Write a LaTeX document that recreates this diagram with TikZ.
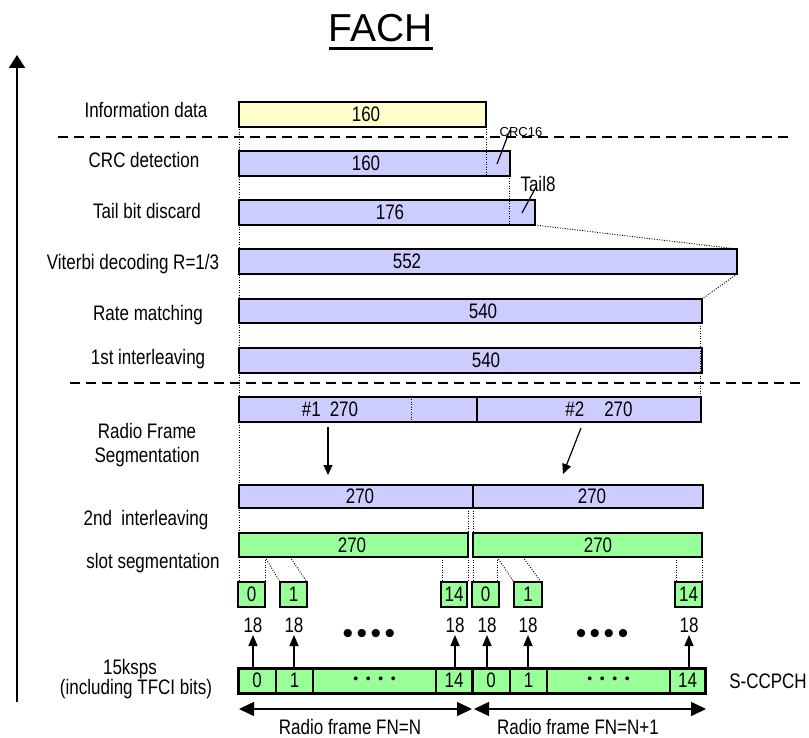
\documentclass[tikz,border=0pt]{standalone}
\usepackage{fontspec}
\setmainfont[FakeStretch=0.81]{Liberation Sans}
\newfontfamily\titlefont{Liberation Sans}
\usetikzlibrary{arrows.meta}

\definecolor{infoyel}{RGB}{255,255,204}
\definecolor{chblue}{RGB}{204,204,255}
\definecolor{slotgrn}{RGB}{153,255,153}

\tikzset{
  txt/.style={font=\fontsize{21}{24}\selectfont, inner sep=0pt},
  lbl/.style={txt, anchor=base},
  bar/.style={draw=black, line width=1.5pt},
  dotln/.style={black, line width=0.9pt, dash pattern=on 1pt off 1.5pt},
  dashln/.style={black, line width=2pt, dash pattern=on 10pt off 6pt},
  uparr/.style={line width=1.5pt, -{Triangle[length=11pt,width=9pt]}},
  segarr/.style={line width=1.2pt, -{Triangle[length=10pt,width=9pt]}},
  fnarr/.style={line width=1.5pt, {Triangle[length=15pt,width=14pt]}-{Triangle[length=15pt,width=14pt]}},
}

\begin{document}
\begin{tikzpicture}[x=1pt,y=-1pt] % pixel grid, y down
  \useasboundingbox (0,0) rectangle (809,738);

  % title and axis
  \node[font=\titlefont\fontsize{39}{42}\selectfont, anchor=base, inner sep=0pt] (title) at (381,42) {FACH};
  \draw[line width=3pt] ([yshift=-7pt]title.base west) -- ([yshift=-7pt]title.base east);
  \coordinate (axbot) at (17,702);
  \coordinate (axtop) at (17,55);
  \draw[line width=2pt, -{Triangle[length=13pt,width=16pt]}] (axbot) -- (axtop);

  \draw[dashln] (58,137) -- (792,137);
  \draw[dashln] (70,383) -- (805,383);
  \draw[dotln] (239,127) -- (239,582);

  % bars
  \filldraw[bar, fill=infoyel] (239,102) rectangle (486,127);
  \filldraw[bar, fill=chblue] (239,151) rectangle (510,176);
  \filldraw[bar, fill=chblue] (239,200) rectangle (535,225);
  \filldraw[bar, fill=chblue] (239,249) rectangle (737,274);
  \filldraw[bar, fill=chblue] (239,299) rectangle (702,323);
  \filldraw[bar, fill=chblue] (239,348) rectangle (702,373);
  \filldraw[bar, fill=chblue] (239,397) rectangle (477,422);
  \filldraw[bar, fill=chblue] (477,397) rectangle (701,422);
  \filldraw[bar, fill=chblue] (239,485) rectangle (473,508);
  \filldraw[bar, fill=chblue] (473,485) rectangle (703,508);
  \filldraw[bar, fill=slotgrn] (239,533) rectangle (468,557);
  \filldraw[bar, fill=slotgrn] (473,533) rectangle (702,557);

  % bar texts
  \node[txt] (info) at (366,114.5) {160};
  \node[txt] (crc) at (366,163.5) {160};
  \node[txt] (tail) at (390,212.5) {176};
  \node[txt] (vit) at (407,261.5) {552};
  \node[txt] (rm) at (483,311) {540};
  \node[txt] (il1) at (486,360.5) {540};
  \node[txt] (rf1) at (330,409.5) {\#1\hspace{9pt}270};
  \node[txt] (rf2) at (599,409.5) {\#2\hspace{20pt}270};
  \node[txt] (il2a) at (360,496.5) {270};
  \node[txt] (il2b) at (592,496.5) {270};
  \node[txt] (ssa) at (352,545) {270};
  \node[txt] (ssb) at (598,545) {270};

  % dotted guides
  \draw[dotln] (486,127) -- (486,176);
  \draw[dotln] (509,176) -- (509,225);
  \draw[dotln] (535,225) -- (737,249);
  \draw[dotln] (737,274) -- (702,299);
  \draw[dotln] (700,323) -- (700,397);
  \draw[dotln] (411,399) -- (411,421);
  \draw[dotln] (468,508) -- (468,533);
  \draw[dotln] (473,508) -- (473,533);
  \foreach \x in {265,442,468,473,497,676,702}
    \draw[dotln] (\x,557) -- (\x,582);
  \draw[dotln] (265,557) -- (280,582);
  \draw[dotln] (290,557) -- (307,582);
  \draw[dotln] (497,557) -- (514,582);
  \draw[dotln] (523,557) -- (541,582);

  % CRC16 and Tail8
  \node[font=\titlefont\fontsize{13}{14}\selectfont, anchor=base, inner sep=0pt] (crc16) at (521,137) {CRC16};
  \draw[line width=1.2pt] (510,130) -- (497,164);
  \node[lbl] (tail8) at (538,192) {Tail8};
  \draw[line width=1.2pt] (536,187) -- (522,213);

  % segmentation arrows
  \coordinate (s1a) at (328,427);
  \coordinate (s1b) at (328,475);
  \coordinate (s2a) at (581,428);
  \coordinate (s2b) at (563,474);
  \draw[segarr] (s1a) -- (s1b);
  \draw[segarr] (s2a) -- (s2b);

  % slots
  \foreach \a/\b/\t in {238/265/0, 280/307/1, 441/467/14, 472/499/0, 514/542/1, 675/702/14} {
    \filldraw[bar, fill=slotgrn] (\a,582) rectangle (\b,607);
    \node[txt] (sl\a) at ({(\a+\b)/2},594.5) {\t};
  }

  % S-CCPCH
  \fill[slotgrn] (238,668) rectangle (705,693);
  \foreach \x in {276,313,436,510,547,670}
    \draw[line width=1.5pt] (\x,668) -- (\x,693);
  \draw[line width=3pt] (472,668) -- (472,693);
  \draw[line width=3pt] (238,668) rectangle (705,693);
  \foreach \x/\t in {257/0, 294.5/1, 454/14, 491/0, 528.5/1, 687.5/14}
    \node[txt] (cc\x) at (\x,680.5) {\t};
  \node[font=\titlefont\fontsize{14}{14}\selectfont, anchor=base, inner sep=0pt] (ccd1) at (374.5,683) {\textbullet\hspace{7.6pt}\textbullet\hspace{7.6pt}\textbullet\hspace{7.6pt}\textbullet};
  \node[font=\titlefont\fontsize{14}{14}\selectfont, anchor=base, inner sep=0pt] (ccd2) at (608.5,683) {\textbullet\hspace{7.6pt}\textbullet\hspace{7.6pt}\textbullet\hspace{7.6pt}\textbullet};

  % 18 bits per slot
  \foreach \x/\n in {253/1, 294/2, 455/3, 487/4, 528/5, 689/6} {
    \coordinate (ub\n) at (\x,668);
    \coordinate (ut\n) at (\x,635);
    \draw[uparr] (ub\n) -- (ut\n);
    \node[lbl] (bits\n) at (\x,632) {18};
  }
  \node[font=\titlefont\fontsize{30}{30}\selectfont, anchor=base, inner sep=0pt] (dots1) at (369,643) {\textbullet\hspace{3.5pt}\textbullet\hspace{3.5pt}\textbullet\hspace{3.5pt}\textbullet};
  \node[font=\titlefont\fontsize{30}{30}\selectfont, anchor=base, inner sep=0pt] (dots2) at (602,643) {\textbullet\hspace{3.5pt}\textbullet\hspace{3.5pt}\textbullet\hspace{3.5pt}\textbullet};

  % radio frames
  \coordinate (fnN1) at (239,709);
  \coordinate (fnN2) at (472,709);
  \coordinate (fnM1) at (474,709);
  \coordinate (fnM2) at (706,709);
  \draw[fnarr] (fnN1) -- (fnN2);
  \draw[fnarr] (fnM1) -- (fnM2);
  \node[lbl] (fnN) at (350,734) {Radio frame FN=N};
  \node[lbl] (fnM) at (578,734) {Radio frame FN=N+1};

  % step labels
  \node[lbl] (l-info) at (146,118) {Information data};
  \node[lbl] (l-crc) at (144,168) {CRC detection};
  \node[lbl] (l-tail) at (147,219) {Tail bit discard};
  \node[lbl] (l-vit) at (133,270) {Viterbi decoding R=1/3};
  \node[lbl] (l-rm) at (148,320) {Rate matching};
  \node[lbl] (l-il1) at (148,364) {1st interleaving};
  \node[lbl] (l-rf) at (147,438) {Radio Frame};
  \node[lbl] (l-rf2) at (147,462) {Segmentation};
  \node[lbl] (l-il2) at (146,525) {2nd\ \ interleaving};
  \node[lbl] (l-ss) at (153,568) {slot segmentation};
  \node[lbl] (l-rate) at (130,674) {15ksps};
  \node[lbl] (l-tfci) at (136,694) {(including TFCI bits)};
  \node[lbl] (l-ccpch) at (768,688) {S-CCPCH};
\end{tikzpicture}
\end{document}
